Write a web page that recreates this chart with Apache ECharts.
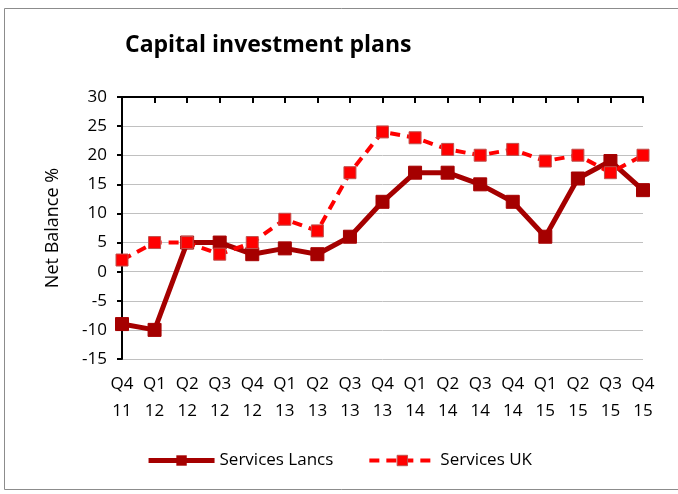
<!DOCTYPE html>
<html><head><meta charset="utf-8">
<script src="https://cdn.jsdelivr.net/npm/echarts@6/dist/echarts.min.js"></script>
<style>html,body{margin:0;padding:0;background:#fff}#c{width:678px;height:494px}</style>
</head><body><div id="c"></div>
<script>
const categories = ['Q4\n11','Q1\n12','Q2\n12','Q3\n12','Q4\n12','Q1\n13','Q2\n13','Q3\n13','Q4\n13','Q1\n14','Q2\n14','Q3\n14','Q4\n14','Q1\n15','Q2\n15','Q3\n15','Q4\n15'];
const servicesLancs = [-9,-10,5,5,3,4,3,6,12,17,17,15,12,6,16,19,14];
const servicesUK = [2,5,5,3,5,9,7,17,24,23,21,20,21,19,20,17,20];
const yMin = -15, yMax = 30, yStep = 5;

const chart = echarts.init(document.getElementById('c'));
const font = "'Open Sans', 'Liberation Sans', sans-serif";
chart.setOption({
  animation: false,
  backgroundColor: '#fff',
  graphic: [{type:'rect', shape:{x:4.5,y:8.5,width:690,height:481}, style:{fill:'none', stroke:'#8c8c8c', lineWidth:1}}],
  title: {text:'Capital investment plans', left:120, top:29, textStyle:{fontFamily:font, fontSize:23, fontWeight:'bold', color:'#000'}},
  grid: {left:122, right:35, top:97, bottom:135, containLabel:false},
  legend: {bottom:20, left:'center', itemGap:34,
    textStyle:{fontFamily:font, fontSize:17, color:'#000'},
    data:[
      {name:'Services Lancs', lineStyle:{color:'#a50000', width:5, type:'solid'}, itemStyle:{color:'#a50000', borderColor:'#a50000'}},
      {name:'Services UK', lineStyle:{color:'#ff0000', width:4, type:[10,7]}, itemStyle:{color:'#ff0000', borderColor:'#c0504d', borderWidth:1}}
    ],
    itemWidth:66, itemHeight:13
  },
  xAxis: [{
    type:'category', data:categories, boundaryGap:false, position:'bottom',
    axisLine:{show:false}, axisTick:{show:false}, splitLine:{show:false},
    axisLabel:{fontFamily:font, fontSize:17, color:'#000', lineHeight:27, margin:12, interval:0}
  },{
    type:'category', data:categories, boundaryGap:false, position:'top',
    axisLine:{show:true, onZero:true, lineStyle:{color:'#000', width:2}},
    axisTick:{show:true, inside:true, length:6, alignWithLabel:true, interval:0, lineStyle:{color:'#000', width:2}},
    axisLabel:{show:false}, splitLine:{show:false}
  }],
  yAxis: {
    type:'value', min:yMin, max:yMax, interval:yStep,
    name:'Net Balance %', nameLocation:'middle', nameGap:60,
    nameTextStyle:{fontFamily:font, fontSize:18, color:'#000'},
    axisLine:{show:true, onZero:false, lineStyle:{color:'#000', width:2}},
    axisTick:{show:true, length:5, lineStyle:{color:'#000', width:2}},
    axisLabel:{fontFamily:font, fontSize:17, color:'#000', margin:15},
    splitLine:{lineStyle:{color:'#c0c0c0', width:1}}
  },
  series: [{
    name:'Services Lancs', type:'line', data:servicesLancs, xAxisIndex:0,
    symbol:'rect', symbolSize:13,
    lineStyle:{color:'#a50000', width:5},
    itemStyle:{color:'#a50000', borderColor:'#a50000'}
  },{
    name:'Services UK', type:'line', data:servicesUK, xAxisIndex:0,
    symbol:'rect', symbolSize:12,
    lineStyle:{color:'#ff0000', width:4, type:[10,7]},
    itemStyle:{color:'#ff0000', borderColor:'#c0504d', borderWidth:1}
  }]
});
</script></body></html>
